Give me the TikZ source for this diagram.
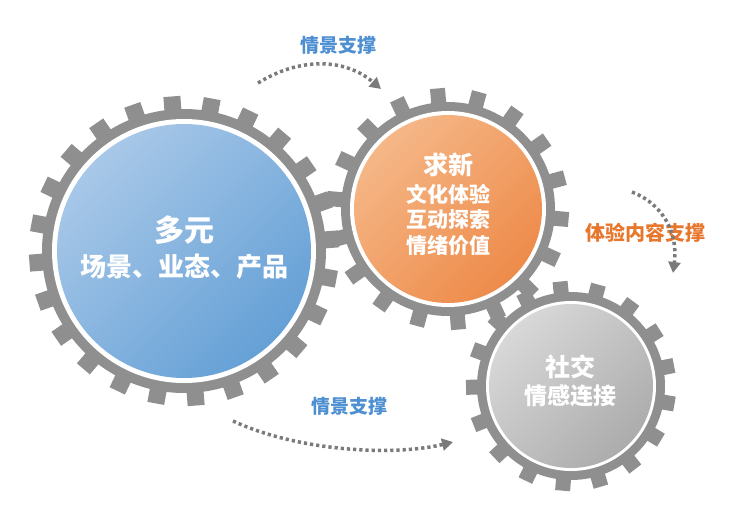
\documentclass[tikz,border=0pt]{standalone}
\usepackage{fontspec}
\newfontfamily\cjk{Noto Sans CJK SC}
\usepackage{tikz}
\usetikzlibrary{arrows.meta,positioning,calc}
\definecolor{geargray}{HTML}{8F8F8F}
\definecolor{flowgray}{HTML}{7A7A7A}
\definecolor{suppblue}{HTML}{4D8FD1}
\definecolor{supporange}{HTML}{E8772E}
\definecolor{bluelight}{HTML}{A8C8E8}
\definecolor{bluedark}{HTML}{65A0D6}
\definecolor{orangelight}{HTML}{F5B787}
\definecolor{orangedark}{HTML}{EE8B4A}
\definecolor{graylight}{HTML}{D8D8D8}
\definecolor{graydark}{HTML}{ACACAC}

\begin{document}
\begin{tikzpicture}[x=1pt, y=-1pt, >=Stealth,
  cog/.style={fill=geargray},
  hub/.style={fill=white},
  title/.style={text=white, font=\cjk\bfseries\fontsize{25}{28}\selectfont},
  line/.style={text=white, font=\cjk\bfseries\fontsize{21}{24}\selectfont},
  supp/.style={font=\cjk\bfseries\fontsize{19}{22}\selectfont},
  flow/.style={draw=flowgray, line width=3.5pt, dash pattern=on 3.2pt off 3pt,
    -{Triangle[length=11pt,width=12pt]}}]
\path[use as bounding box] (0,0) rectangle (730,506);
\coordinate (cbig) at (184,251);
\coordinate (cnew) at (448,209);
\coordinate (csoc) at (571,386);
% the gear bodies
\foreach \a in {0,...,23}
  \fill[cog, shift={(cbig)}, rotate=\a*15+4.5] (-8.5,0) rectangle (8.5,-155);
\fill[cog] (cbig) circle (142);
\foreach \a in {0,...,17}
  \fill[cog, shift={(cnew)}, rotate=\a*20+5] (-7.5,0) rectangle (7.5,-121);
\fill[cog] (cnew) circle (107);
\foreach \a in {0,...,16}
  \fill[cog, shift={(csoc)}, rotate=\a*360/17+6] (-7.5,0) rectangle (7.5,-105);
\fill[cog] (csoc) circle (94);
% the discs
\fill[hub] (cbig) circle (132);
\shade[top color=bluelight, bottom color=bluedark, shading angle=45]
  (cbig) circle (127);
\fill[hub] (cnew) circle (98);
\shade[top color=orangelight, bottom color=orangedark, shading angle=45]
  (cnew) circle (94);
\fill[hub] (csoc) circle (85);
\shade[top color=graylight, bottom color=graydark, shading angle=45]
  (csoc) circle (82);
% texts on the discs
\node[title, font=\cjk\bfseries\fontsize{30}{32}\selectfont] (duoyuan) at (184,230) {多元};
\node[line, font=\cjk\bfseries\fontsize{26}{28}\selectfont] (changjing) at (184,267) {场景、业态、产品};
\node[title] (qiuxin) at (448,165) {求新};
\node[line] (wenhua) at (448,194) {文化体验};
\node[line] (hudong) at (448,220) {互动探索};
\node[line] (qingxu) at (448,246) {情绪价值};
\node[title] (shejiao) at (570,367) {社交};
\node[line, font=\cjk\bfseries\fontsize{23}{26}\selectfont] (qinggan) at (570,396) {情感连接};
% support labels
\node[supp, text=suppblue] (topsupp) at (338,45) {情景支撑};
\node[supp, text=supporange, font=\cjk\bfseries\fontsize{20}{22}\selectfont] (rightsupp) at (645,233) {体验内容支撑};
\node[supp, text=suppblue] (botsupp) at (349,406) {情景支撑};
% the dotted arrows
\coordinate (ta) at (258,83);
\coordinate (tb) at (381,89);
\coordinate (ra) at (632,192);
\coordinate (rb) at (673,273);
\coordinate (ba) at (233,421);
\coordinate (bb) at (453,442);
\draw[flow] (ta) .. controls (300,57) and (345,58) .. (tb);
\draw[flow] (ra) .. controls (665,205) and (678,235) .. (rb);
\draw[flow] (ba) .. controls (300,452) and (395,456) .. (bb);
\end{tikzpicture}
\end{document}
